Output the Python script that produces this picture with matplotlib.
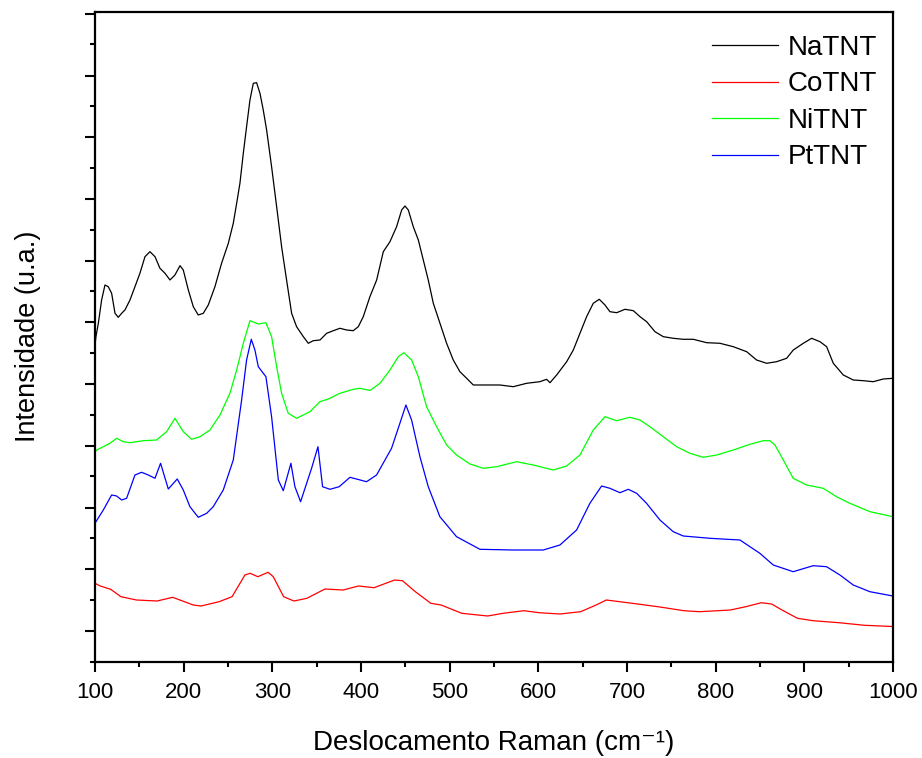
import matplotlib
matplotlib.use("Agg")
import matplotlib.pyplot as plt
from matplotlib.ticker import MultipleLocator, NullFormatter

plt.rcParams['font.family'] = ['Liberation Sans', 'DejaVu Sans']

# Raman shift (cm^-1) and intensity (a.u.)
na_x = [100, 101.1, 103.8, 107.5, 111.3, 115, 118.8, 122.6, 126.3, 130.1, 133.8, 139.5, 145.1, 150.7,
        156.4, 162, 167.7, 173.3, 179, 184.6, 190.2, 195.9, 199.6, 205.3, 210.9, 216.5, 222.2, 227.8,
        235.3, 242.8, 250.4, 256, 259.8, 263.5, 267.3, 271, 274.8, 278.6, 282.3, 286.1, 289.8, 293.6,
        299.2, 304.9, 310.5, 316.1, 321.8, 327.4, 335, 340.6, 346.2, 353.8, 361.3, 368.8, 376.3, 383.8,
        391.3, 397, 402.6, 410.1, 417.7, 425.2, 432.7, 440.2, 445.9, 449.6, 453.4, 459, 464.7, 470.3,
        475.9, 481.6, 489.1, 496.6, 504.1, 511.6, 519.2, 526.7, 541.7, 556.7, 571.8, 586.8, 601.8, 609.4,
        613.2, 620.7, 632, 639.5, 647, 654.5, 662, 668.8, 675.2, 680.8, 688.4, 697.8, 707.2, 714.7,
        722.2, 731.6, 741, 752.3, 763.5, 774.8, 789.9, 804.9, 819.9, 835, 846.2, 857.5, 868.8, 880.1,
        887.6, 898.9, 908.3, 917.7, 925.2, 932.7, 944, 955.2, 966.5, 977.8, 989.1, 1000]
na_y = [316, 324.8, 338.2, 361.5, 376.5, 374.8, 368.2, 348.2, 344.2, 348.2, 351.5, 361.5, 374.8, 388.2,
        404.8, 409.8, 404.8, 393.2, 388.2, 381.5, 386.5, 395.8, 391.5, 371.5, 354.8, 346.5, 348.2, 356.5,
        374.8, 398.2, 418.2, 438.2, 458.2, 478.2, 508.2, 534.8, 561.5, 578.2, 578.8, 568.2, 551.5, 531.5,
        494.8, 454.8, 414.8, 381.5, 348.2, 334.8, 324.8, 318.2, 320.8, 321.5, 328.2, 330.8, 333.2, 331.5,
        330.8, 334.8, 344.8, 364.8, 381.5, 409.8, 419.8, 434.8, 451.5, 455.5, 451.5, 434.8, 421.5, 401.5,
        381.5, 358.2, 338.2, 318.2, 301.5, 289.8, 283.2, 276.5, 276.5, 276.5, 274.8, 278.2, 279.8, 282.2,
        278.8, 286.5, 299.8, 311.5, 328.2, 344.8, 358.2, 362.2, 356.5, 349.8, 348.8, 352.2, 350.8, 344.8,
        339.8, 329.8, 324.8, 323.2, 322.2, 322.2, 318.8, 318.2, 314.8, 309.8, 301.5, 298.2, 299.8, 303.2,
        311.5, 318.2, 323.2, 319.8, 314.8, 298.2, 286.5, 281.5, 280.8, 279.8, 282.5, 283.2]

co_x = [100, 106, 117.7, 129.3, 146.8, 170.1, 187.6, 210.9, 219.6, 240, 254.6, 269.1, 275, 283.7,
        295.3, 301.1, 312.8, 324.4, 339, 359.4, 379.8, 397.3, 414.7, 438, 446.8, 461.3, 478.8, 490.4,
        513.7, 542.8, 560.3, 583.6, 601.1, 624.4, 647.7, 665.2, 676.8, 705.9, 735, 764.2, 781.6, 816.6,
        834, 851.5, 863.2, 874.8, 892.3, 909.8, 938.9, 968, 1000]
co_y = [78.2, 75.5, 72.2, 64.8, 61.5, 60.5, 64.2, 56.5, 55.5, 59.8, 64.8, 86.5, 88.2, 84.8,
        89.2, 84.8, 64.8, 60.5, 63.2, 72.5, 71.5, 75.5, 73.8, 81.5, 80.8, 69.8, 58.2, 56.5,
        48.2, 45.5, 48.2, 50.8, 48.8, 47.5, 49.8, 56.5, 61.5, 58.2, 54.8, 50.8, 49.8, 51.5,
        54.8, 58.8, 57.5, 51.5, 43.2, 40.8, 38.8, 36.2, 35]

ni_x = [100, 101.9, 109.4, 116.9, 124.4, 132, 139.5, 154.5, 169.5, 180.8, 190.2, 199.6, 209, 218.4,
        229.7, 241, 252.2, 259.8, 267.3, 274.8, 284.2, 292.8, 299.2, 304.9, 310.5, 318, 327.4, 342.5,
        353.7, 363.1, 376.3, 391.3, 398.8, 410.1, 421.4, 432.7, 442.1, 448.5, 457.1, 464.7, 474,
        485.3, 496.6, 507.8, 522.9, 537.9, 553, 575.5, 594.3, 616.9, 631.9, 647, 662, 675.2, 688.3,
        703.3, 714.6, 725.9, 740.9, 756, 771, 786, 801.1, 819.9, 838.7, 853.7, 861.2, 866.9, 876.3,
        887.5, 902.6, 921.4, 936.4, 951.4, 974, 1000]
ni_y = [209.5, 211.5, 214.8, 218.2, 223.2, 219.8, 218.8, 220.8, 221.5, 229.8, 243.2, 229.8, 222.2, 224.8,
        231.5, 246.5, 268.2, 291.5, 318.2, 340.8, 337.5, 338.8, 324.8, 294.8, 268.2, 248.2, 243.2, 249.8,
        259.8, 262.5, 268.2, 272.2, 273.2, 271, 278.2, 291.5, 304.8, 308.8, 301.5, 284.8, 254.8,
        234.8, 216.5, 206.5, 197.5, 193.2, 194.8, 199.8, 196.5, 191.5, 195.5, 206.5, 231.5, 244.8, 240.8,
        244.2, 241.5, 234.8, 224.8, 214.8, 208.2, 204.2, 206.5, 211.5, 217.2, 220.8, 220.8, 216.5, 201.5,
        183.2, 176.5, 173.2, 164.8, 158.2, 149.8, 144.8]

pt_x = [100, 109.4, 118.8, 124.4, 130.1, 135.7, 145.1, 152.6, 160.1, 167.7, 174, 182.7, 192.8, 199.6,
        207.1, 216.5, 226, 233.4, 244.7, 256, 265.4, 271, 276.3, 280.4, 284.2, 292.8, 299.2, 306.8,
        312.4, 321, 325.5, 331.9, 344.3, 351.5, 356.7, 365, 375.5, 387.6, 406.3, 417.6, 434.5, 443.9,
        450.7, 457.1, 466.5, 475.9, 489, 507.8, 534.2, 571.7, 605.6, 624.4, 643.2, 658.2, 671.4, 680.8,
        692.1, 701.5, 710.9, 722.1, 737.2, 752.2, 763.5, 793.6, 827.4, 838.7, 849.9, 865, 887.5, 910,
        925.1, 940.2, 955.2, 974, 1000]
pt_y = [138.2, 151.5, 166.5, 165.5, 161.5, 163.2, 186.5, 189.2, 186.5, 183.2, 198.2, 172.5, 182.5, 171.5,
        154.8, 144.2, 148.2, 154.8, 171.5, 201.5, 261.5, 301.5, 322.2, 311.5, 294.8, 284.8, 244.8, 181.5,
        170.8, 198.2, 174.8, 159.8, 193.2, 214.8, 174.8, 172.2, 174.8, 184.2, 179.8, 186.5, 213.2, 238.2,
        256.5, 241.5, 204.8, 174.8, 144.8, 124.8, 112.2, 111.5, 111.5, 116.5, 131.5, 158.2, 175.5, 173.2,
        168.8, 172.2, 168.2, 158.2, 141.5, 129.8, 125.5, 123.2, 121.5, 114.8, 108.2, 96.5, 89.8, 95.8,
        94.8, 86.5, 76.5, 69.8, 65.5]

series = [
    ("NaTNT", na_x, na_y, "#000000"),
    ("CoTNT", co_x, co_y, "#ff0000"),
    ("NiTNT", ni_x, ni_y, "#00ff00"),
    ("PtTNT", pt_x, pt_y, "#0000ff"),
]

fig = plt.figure(figsize=(9.22, 7.58), dpi=100)
ax = fig.add_axes([0.1030, 0.1273, 0.8655, 0.8569])

for name, xs, ys, col in series:
    ax.plot(xs, ys, color=col, lw=0.9, label=name)

ax.set_xlim(100, 1000)
ax.set_ylim(0, 649.5)

ax.xaxis.set_major_locator(MultipleLocator(100))
ax.xaxis.set_minor_locator(MultipleLocator(50))
ax.yaxis.set_major_locator(MultipleLocator(61.7, offset=30.5))
ax.yaxis.set_minor_locator(MultipleLocator(61.7))
ax.yaxis.set_major_formatter(NullFormatter())

ax.tick_params(axis='both', which='major', direction='out', length=7, width=1.5, labelsize=16)
ax.tick_params(axis='both', which='minor', direction='out', length=3.5, width=1.5)
ax.tick_params(axis='x', pad=8)
for sp in ax.spines.values():
    sp.set_linewidth(1.6)

ax.set_xlabel("Deslocamento Raman (cm\u207b\u00b9)", fontsize=20, labelpad=19)
ax.set_ylabel("Intensidade (u.a.)", fontsize=19.5, labelpad=28)

leg = ax.legend(loc='upper left', bbox_to_anchor=(0.773, 0.965), frameon=False, fontsize=20,
                handlelength=2.37, handletextpad=0.36, labelspacing=0.38, borderpad=0,
                borderaxespad=0)

fig.savefig("out.png", dpi=100)
